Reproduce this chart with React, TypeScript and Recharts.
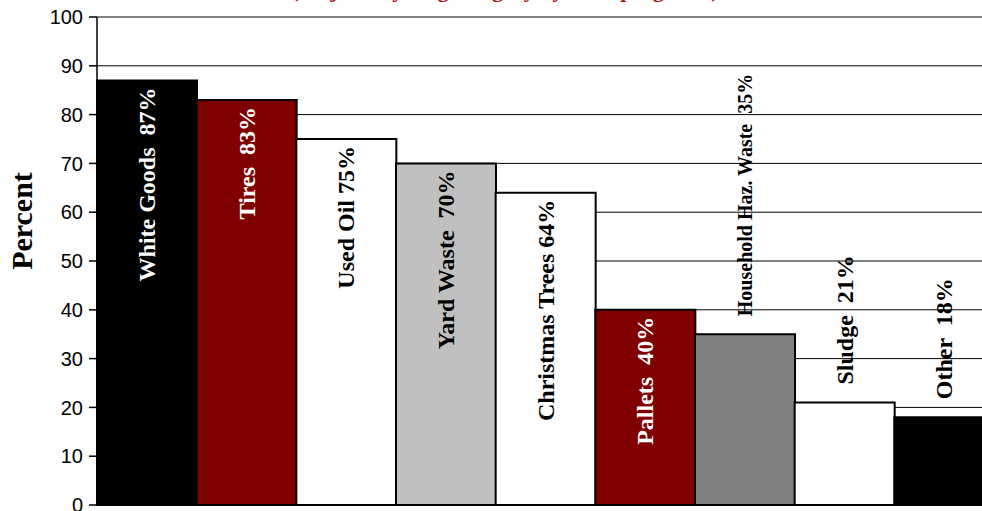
import React from "react";
import { BarChart, Bar, XAxis, YAxis, CartesianGrid, Cell, LabelList } from "recharts";

const categories = [
  "White Goods",
  "Tires",
  "Used Oil",
  "Yard Waste",
  "Christmas Trees",
  "Pallets",
  "Household Haz. Waste",
  "Sludge",
  "Other",
];
const values = [87, 83, 75, 70, 64, 40, 35, 21, 18];
const gaps = ["  ", "  ", " ", "  ", " ", "  ", "  ", "  ", "  "];
const yTicks = [0, 10, 20, 30, 40, 50, 60, 70, 80, 90, 100];

const fills = ["#000000", "#800000", "#ffffff", "#c0c0c0", "#ffffff", "#800000", "#808080", "#ffffff", "#000000"];
const labelColors = ["#ffffff", "#ffffff", "#000000", "#000000", "#000000", "#ffffff", "#000000", "#000000", "#000000"];

const data = categories.map((name, i) => ({ name, value: values[i] }));

const serif = "'Liberation Serif', 'Times New Roman', serif";

function BarLabel(props: any) {
  const x = Number(props.x);
  const y = Number(props.y);
  const width = Number(props.width);
  const index = props.index as number;
  const value = props.value;
  const text = `${categories[index]}${gaps[index]}${value}%`;
  const outside = value < 38;
  const fontSize = text.length > 20 ? 20 : 24;
  const cx = x + width / 2;
  const ay = outside ? y - 18 : y + 7;
  return (
    <text
      x={cx}
      y={ay}
      transform={`rotate(-90 ${cx} ${ay})`}
      textAnchor={outside ? "start" : "end"}
      dominantBaseline="central"
      fill={outside ? "#000" : labelColors[index]}
      fontFamily={serif}
      fontWeight="bold"
      fontSize={fontSize}
      style={{ whiteSpace: "pre" }}
    >
      {text}
    </text>
  );
}

export default function App() {
  return (
    <div
      style={{
        position: "absolute",
        left: 0,
        top: 0,
        width: 982,
        height: 511,
        overflow: "hidden",
        background: "#fff",
      }}
    >
      <div
        style={{
          position: "absolute",
          left: 505,
          top: -21,
          transform: "translateX(-50%)",
          whiteSpace: "nowrap",
          fontFamily: serif,
          fontWeight: "bold",
          fontSize: 22,
          lineHeight: "22px",
          color: "#b01010",
        }}
      >
        (Major recycling category by % of programs)
      </div>
      <div
        style={{
          position: "absolute",
          left: 22,
          top: 221,
          transform: "translate(-50%, -50%) rotate(-90deg)",
          whiteSpace: "nowrap",
          fontFamily: serif,
          fontWeight: "bold",
          fontSize: 30,
          lineHeight: "30px",
          color: "#000",
        }}
      >
        Percent
      </div>
      <div style={{ position: "absolute", left: 0, top: -30 }}>
        <BarChart
          width={1003}
          height={560}
          data={data}
          margin={{ top: 47, right: 9, left: 0, bottom: 25 }}
          barCategoryGap={0}
        >
          <CartesianGrid vertical={false} stroke="#000" strokeWidth={1} />
          <XAxis dataKey="name" hide />
          <YAxis
            width={97}
            domain={[0, 100]}
            ticks={yTicks}
            interval={0}
            tickSize={8}
            tickMargin={6}
            axisLine={{ stroke: "#000", strokeWidth: 1.5 }}
            tickLine={{ stroke: "#000", strokeWidth: 1.5 }}
            tick={{ fill: "#000", fontSize: 20, fontFamily: "'Liberation Sans', Arial, sans-serif" }}
          />
          <Bar dataKey="value" stroke="#000" strokeWidth={2} isAnimationActive={false}>
            {data.map((d, i) => (
              <Cell key={d.name} fill={fills[i]} />
            ))}
            <LabelList dataKey="value" content={BarLabel} />
          </Bar>
        </BarChart>
      </div>
    </div>
  );
}
